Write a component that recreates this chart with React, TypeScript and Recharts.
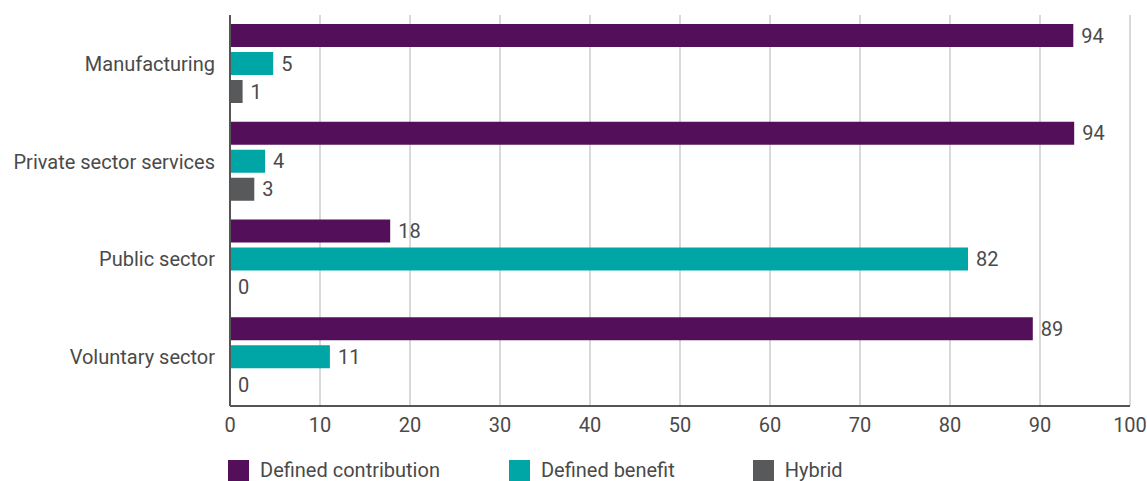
import { BarChart, Bar, XAxis, YAxis, CartesianGrid, LabelList, Legend } from 'recharts';

// Доли схем по секторам, %
const sectors = ['Manufacturing', 'Private sector services', 'Public sector', 'Voluntary sector'];
const definedContribution = [93.7, 93.8, 17.8, 89.2];
const definedBenefit = [4.8, 3.9, 82, 11.1];
const hybrid = [1.4, 2.7, 0, 0];
const xTicks = [0, 10, 20, 30, 40, 50, 60, 70, 80, 90, 100];

const seriesInfo = [
  { key: 'dc', name: 'Defined contribution', color: '#530f59' },
  { key: 'db', name: 'Defined benefit', color: '#00a6a6' },
  { key: 'hy', name: 'Hybrid', color: '#58595b' },
];

const data = sectors.map((sector, i) => ({
  sector,
  dc: definedContribution[i],
  db: definedBenefit[i],
  hy: hybrid[i],
}));

const FONT = 'Roboto, sans-serif';
const TEXT = '#4a4a4a';

function LegendContent() {
  const gaps = [69, 78, 0];
  return (
    <div
      style={{
        display: 'flex',
        paddingTop: 24,
        paddingLeft: 228,
        fontFamily: FONT,
        fontSize: 20,
        lineHeight: '21px',
        color: TEXT,
        height: 45,
        boxSizing: 'border-box',
      }}
    >
      {seriesInfo.map((s, i) => (
        <div key={s.key} style={{ display: 'flex', alignItems: 'center', marginRight: gaps[i] }}>
          <span style={{ width: 21, height: 21, background: s.color, display: 'inline-block', marginRight: 11 }} />
          <span>{s.name}</span>
        </div>
      ))}
    </div>
  );
}

// нулевые столбики получают микроскопическую длину, чтобы подпись "0" не пропадала
const tinyForZero = (value: number) => (value === 0 ? 0.01 : 0);

export default function App() {
  return (
    <div style={{ position: 'absolute', left: 0, top: 0, width: 1147, height: 481, background: '#fff' }}>
      <BarChart
        width={1147}
        height={481}
        data={data}
        layout="vertical"
        margin={{ top: 15, right: 17, left: 0, bottom: 0 }}
        barSize={23}
        barGap={5}
      >
        <CartesianGrid horizontal={false} stroke="#cccccc" strokeWidth={1.5} />
        <XAxis
          type="number"
          domain={[0, 100]}
          ticks={xTicks}
          interval={0}
          height={30}
          tickLine={false}
          tickSize={0}
          tickMargin={12}
          axisLine={{ stroke: '#555555', strokeWidth: 2 }}
          tick={{ fill: TEXT, fontSize: 20, fontFamily: FONT }}
        />
        <YAxis
          type="category"
          dataKey="sector"
          width={230}
          tickLine={false}
          tickSize={0}
          tickMargin={15}
          axisLine={{ stroke: '#555555', strokeWidth: 2 }}
          tick={{ fill: TEXT, fontSize: 20, fontFamily: FONT }}
        />
        <Legend
          verticalAlign="bottom"
          content={<LegendContent />}
          wrapperStyle={{ left: 0, bottom: 0, width: 1147, height: 45 }}
        />
        {seriesInfo.map((s) => (
          <Bar
            key={s.key}
            dataKey={s.key}
            name={s.name}
            fill={s.color}
            minPointSize={tinyForZero}
            isAnimationActive={false}
          >
            <LabelList
              dataKey={s.key}
              position="right"
              offset={8}
              formatter={(v: number) => String(Math.round(v))}
              style={{ fill: TEXT, fontSize: 20, fontFamily: FONT }}
            />
          </Bar>
        ))}
      </BarChart>
    </div>
  );
}
